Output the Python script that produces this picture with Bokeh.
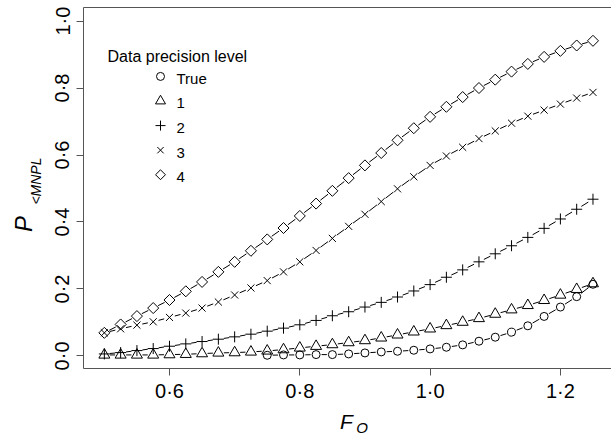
import math
from bokeh.plotting import figure
from bokeh.models import (ColumnDataSource, Label, FixedTicker,
                          CustomJSTickFormatter, Range1d, LinearAxis)
from bokeh.embed import file_html
from bokeh.resources import INLINE

# ---------------- data ----------------
F_O = [0.500, 0.525, 0.550, 0.575, 0.600, 0.625, 0.650, 0.675, 0.700, 0.725,
       0.750, 0.775, 0.800, 0.825, 0.850, 0.875, 0.900, 0.925, 0.950, 0.975,
       1.000, 1.025, 1.050, 1.075, 1.100, 1.125, 1.150, 1.175, 1.200, 1.225,
       1.250]

F_O_true = [0.750, 0.775, 0.800, 0.825, 0.850, 0.875, 0.900, 0.925, 0.950,
            0.975, 1.000, 1.025, 1.050, 1.075, 1.100, 1.125, 1.150, 1.175,
            1.200, 1.225, 1.250]
p_true = [0.002, 0.003, 0.003, 0.004, 0.004, 0.006, 0.009, 0.012, 0.014,
          0.017, 0.021, 0.026, 0.033, 0.044, 0.056, 0.071, 0.090, 0.118,
          0.146, 0.177, 0.214]

p_level1 = [0.003, 0.003, 0.003, 0.003, 0.004, 0.005, 0.007, 0.009, 0.010,
            0.012, 0.015, 0.019, 0.024, 0.029, 0.034, 0.040, 0.046, 0.054,
            0.063, 0.072, 0.081, 0.091, 0.101, 0.112, 0.125, 0.138, 0.151,
            0.166, 0.182, 0.199, 0.216]

p_level2 = [0.006, 0.010, 0.016, 0.022, 0.029, 0.036, 0.043, 0.050, 0.057,
            0.065, 0.074, 0.083, 0.093, 0.106, 0.120, 0.132, 0.146, 0.160,
            0.176, 0.194, 0.213, 0.235, 0.257, 0.281, 0.305, 0.329, 0.354,
            0.381, 0.409, 0.438, 0.468]

p_level3 = [0.069, 0.081, 0.092, 0.102, 0.115, 0.128, 0.143, 0.161, 0.182,
            0.203, 0.225, 0.251, 0.281, 0.315, 0.351, 0.387, 0.423, 0.461,
            0.499, 0.535, 0.569, 0.597, 0.623, 0.649, 0.672, 0.695, 0.716,
            0.734, 0.752, 0.770, 0.787]

p_level4 = [0.069, 0.094, 0.119, 0.143, 0.167, 0.193, 0.221, 0.251, 0.281,
            0.314, 0.348, 0.382, 0.418, 0.455, 0.493, 0.531, 0.569, 0.606,
            0.644, 0.680, 0.714, 0.744, 0.773, 0.800, 0.825, 0.849, 0.872,
            0.893, 0.911, 0.927, 0.941]

series_labels = ["True", "1", "2", "3", "4"]

x_ticks = [0.6, 0.8, 1.0, 1.2]
x_tick_labels = ["0\u00b76", "0\u00b78", "1\u00b70", "1\u00b72"]
y_ticks = [0.0, 0.2, 0.4, 0.6, 0.8, 1.0]
y_tick_labels = ["0\u00b70", "0\u00b72", "0\u00b74", "0\u00b76", "0\u00b78", "1\u00b70"]

legend_title = "Data precision level"
x_title_main, x_title_sub = "F", "O"
y_title_main, y_title_sub = "P", "<MNPL"

# ---------------- layout (canvas pixels) ----------------
W, H = 611, 438
FL, FT, FR, FB = 83, 7, 611, 372          # frame edges
X_START = 0.468
PX_PER_X = 651.5
PX_PER_Y = 338.6
X_END = X_START + (FR - FL) / PX_PER_X
Y_START = -0.0375
Y_END = Y_START + (FB - FT) / PX_PER_Y


def px_to_x(px):
    return X_START + (px - FL) / PX_PER_X


def px_to_y(py):
    return Y_START + (FB - py) / PX_PER_Y


FONT = "Liberation Sans"
AXIS_COLOR = "#555555"

p = figure(width=W, height=H, output_backend="svg", toolbar_location=None,
           x_range=Range1d(X_START, X_END), y_range=Range1d(Y_START, Y_END),
           min_border_left=FL, min_border_right=W - FR, min_border_top=FT,
           min_border_bottom=H - FB)
p.outline_line_color = None
p.grid.visible = False
p.background_fill_color = "white"
p.border_fill_color = "white"


def fmt(ticks, labels):
    return CustomJSTickFormatter(args=dict(t=ticks, l=labels), code="""
        for (let i = 0; i < t.length; i++) {
            if (Math.abs(t[i] - tick) < 1e-6) { return l[i]; }
        }
        return '';
    """)


for ax, ticks, labels in ((p.xaxis[0], x_ticks, x_tick_labels),
                          (p.yaxis[0], y_ticks, y_tick_labels)):
    ax.ticker = FixedTicker(ticks=ticks, minor_ticks=[])
    ax.formatter = fmt(ticks, labels)
    ax.axis_line_color = AXIS_COLOR
    ax.major_tick_line_color = AXIS_COLOR
    ax.major_tick_out = 7
    ax.major_tick_in = 0
    ax.minor_tick_line_color = None
    ax.major_label_text_font = FONT
    ax.major_label_text_font_size = "20px"
    ax.major_label_text_color = "black"

p.xaxis.major_label_standoff = 4
p.yaxis.major_label_standoff = 3
p.yaxis.major_label_orientation = "vertical"

# top border of the box
top = LinearAxis(ticker=FixedTicker(ticks=[]), axis_line_color=AXIS_COLOR,
                 major_tick_line_color=None, minor_tick_line_color=None,
                 major_tick_out=0)
p.add_layout(top, "above")


# axis titles as label-only axes (real text, unclipped)
def title_axis(pos, text, size, standoff, orient="horizontal"):
    return LinearAxis(ticker=FixedTicker(ticks=[pos], minor_ticks=[]),
                      formatter=fmt([pos], [text]),
                      axis_line_color=None, major_tick_line_color=None,
                      minor_tick_line_color=None, major_tick_out=0,
                      major_tick_in=0, major_label_standoff=standoff,
                      major_label_text_font=FONT,
                      major_label_text_font_style="italic",
                      major_label_text_font_size=size,
                      major_label_text_color="black",
                      major_label_orientation=orient)


p.add_layout(title_axis(px_to_x(346), x_title_main, "21px", 5), "below")
p.add_layout(title_axis(px_to_x(361.5), x_title_sub, "15px", -17), "below")
p.add_layout(title_axis(px_to_y(182.5), y_title_sub, "14px", 4, "vertical"), "left")
p.add_layout(title_axis(px_to_y(226), y_title_main, "24px", -12, "vertical"), "left")

# ------------- lines (R type="b": gaps around points) -------------
GAP = 5.5


def gapped_segments(xs, ys):
    x0s, y0s, x1s, y1s = [], [], [], []
    for i in range(len(xs) - 1):
        ddx = (xs[i + 1] - xs[i]) * PX_PER_X
        ddy = (ys[i + 1] - ys[i]) * PX_PER_Y
        L = math.hypot(ddx, ddy)
        if L <= 2 * GAP:
            continue
        f = GAP / L
        x0s.append(xs[i] + (xs[i + 1] - xs[i]) * f)
        y0s.append(ys[i] + (ys[i + 1] - ys[i]) * f)
        x1s.append(xs[i + 1] - (xs[i + 1] - xs[i]) * f)
        y1s.append(ys[i + 1] - (ys[i + 1] - ys[i]) * f)
    return dict(x0=x0s, y0=y0s, x1=x1s, y1=y1s)


marker_styles = [
    dict(marker="circle", size=8),
    dict(marker="triangle", size=11),
    dict(marker="cross", size=11),
    dict(marker="x", size=10),
    dict(marker="square", size=7.8, angle=math.pi / 4),
]
legend_marker_styles = [
    dict(marker="circle", size=8),
    dict(marker="triangle", size=10),
    dict(marker="cross", size=10),
    dict(marker="x", size=9),
    dict(marker="square", size=7, angle=math.pi / 4),
]
series = [(F_O_true, p_true), (F_O, p_level1), (F_O, p_level2),
          (F_O, p_level3), (F_O, p_level4)]

for (xs, ys) in series:
    p.segment(x0="x0", y0="y0", x1="x1", y1="y1",
              source=ColumnDataSource(gapped_segments(xs, ys)),
              line_color="black", line_width=1)
for (xs, ys), mk in zip(series, marker_styles):
    p.scatter(x=xs, y=ys, fill_color=None, line_color="black",
              line_width=1, **mk)

# ---------------- legend (drawn by hand, R style) ----------------
LEG_MARK_X, LEG_TEXT_X, LEG_ROW0, LEG_ROW_STEP = 160, 176, 76.7, 24.85
for i, (lab, mk) in enumerate(zip(series_labels, legend_marker_styles)):
    cy = LEG_ROW0 + i * LEG_ROW_STEP
    p.scatter(x=[px_to_x(LEG_MARK_X)], y=[px_to_y(cy)], fill_color=None,
              line_color="black", line_width=1, **mk)
    p.add_layout(Label(x=px_to_x(LEG_TEXT_X), y=px_to_y(cy + 2.5), text=lab,
                       text_font=FONT, text_font_size="15px",
                       text_align="left", text_baseline="middle",
                       text_color="black"))

p.add_layout(Label(x=px_to_x(107), y=px_to_y(57), text=legend_title,
                   text_font=FONT, text_font_size="16px",
                   text_align="left", text_baseline="alphabetic",
                   text_color="black"))

open("out.html", "w").write(file_html(p, INLINE))
